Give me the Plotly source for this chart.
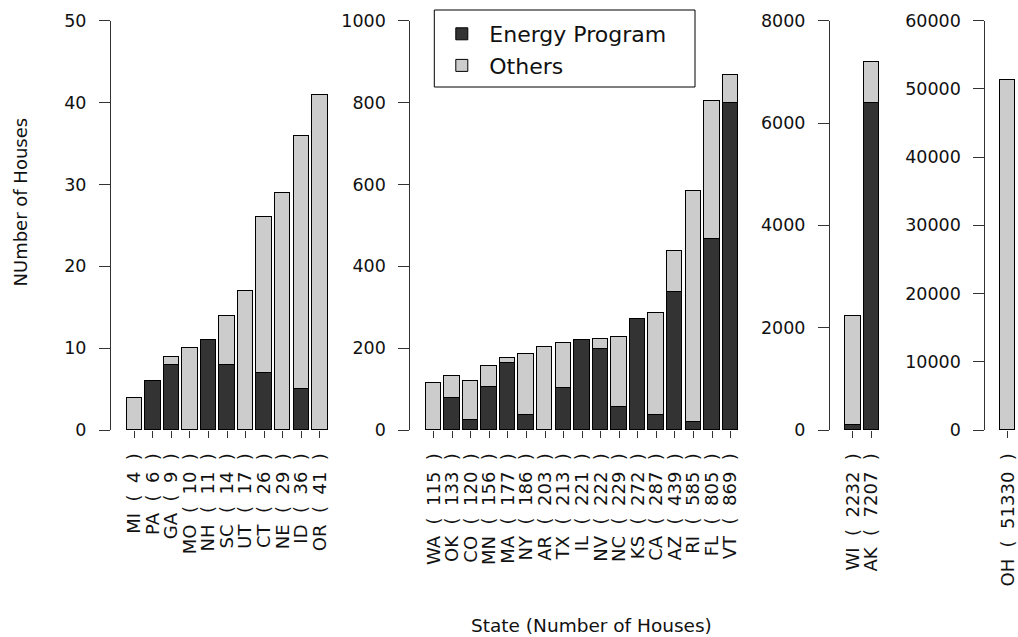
import plotly.graph_objects as go

# Houses per state, split into Energy Program participants and others.
# Four groups with very different magnitudes, each on its own y scale.
states_1 = ["MI", "PA", "GA", "MO", "NH", "SC", "UT", "CT", "NE", "ID", "OR"]
energy_1 = [0, 6, 8, 0, 11, 8, 0, 7, 0, 5, 0]
others_1 = [4, 0, 1, 10, 0, 6, 17, 19, 29, 31, 41]

states_2 = ["WA", "OK", "CO", "MN", "MA", "NY", "AR", "TX", "IL", "NV",
            "NC", "KS", "CA", "AZ", "RI", "FL", "VT"]
energy_2 = [0, 79, 24, 107, 164, 37, 0, 103, 221, 198, 57, 272, 37, 338, 20, 467, 800]
others_2 = [115, 54, 96, 49, 13, 149, 203, 110, 0, 24, 172, 0, 250, 101, 565, 338, 69]

states_3 = ["WI", "AK"]
energy_3 = [110, 6400]
others_3 = [2122, 807]

states_4 = ["OH"]
energy_4 = [0]
others_4 = [51330]

y_ticks_1 = [0, 10, 20, 30, 40, 50]
y_ticks_2 = [0, 200, 400, 600, 800, 1000]
y_ticks_3 = [0, 2000, 4000, 6000, 8000]
y_ticks_4 = [0, 10000, 20000, 30000, 40000, 50000, 60000]

DARK = "#333333"
LIGHT = "#cccccc"
FONT = "DejaVu Sans"
W, H = 1018, 637

groups = [
    (states_1, energy_1, others_1, y_ticks_1),
    (states_2, energy_2, others_2, y_ticks_2),
    (states_3, energy_3, others_3, y_ticks_3),
    (states_4, energy_4, others_4, y_ticks_4),
]

# Panel placement in pixels (left edge at the y axis line, right edge) and x ranges
panel_px = [(111, 331), (410.3, 741.8), (830, 883), (985.3, 1017.8)]
panel_xrange = [(-1.255, 10.6), (-1.26, 16.6), (-1.23, 1.62), (-1.22, 0.53)]
y_bottom_px, y_top_px = 430, 20.7
y_domain = [(H - y_bottom_px) / H, (H - y_top_px) / H]

# Legend frame (pixels): left, top, right, bottom
legend_box = (434.3, 10, 695, 87)

fig = go.Figure()
layout = {}
for i, (states, energy, others, yt) in enumerate(groups):
    k = "" if i == 0 else str(i + 1)
    xa, ya = "x" + k, "y" + k
    pos = list(range(len(states)))
    labels = [f"{s}  (  {e + o}  )" for s, e, o in zip(states, energy, others)]

    fig.add_trace(go.Bar(
        x=pos, y=energy, xaxis=xa, yaxis=ya, width=0.83,
        name="Energy Program", legendgroup="energy", showlegend=(i == 0),
        marker=dict(color=DARK, line=dict(color="black", width=1)),
    ))
    fig.add_trace(go.Bar(
        x=pos, y=others, xaxis=xa, yaxis=ya, width=0.83,
        name="Others", legendgroup="others", showlegend=(i == 0),
        marker=dict(color=LIGHT, line=dict(color="black", width=1)),
    ))

    l_px, r_px = panel_px[i]
    layout["xaxis" + k] = dict(
        domain=[l_px / W, r_px / W], range=list(panel_xrange[i]), anchor=ya,
        tickmode="array", tickvals=pos, ticktext=labels, tickangle=-90,
        ticks="outside", ticklen=7, tickcolor="#333333", showline=False,
        showgrid=False, zeroline=False, ticklabelstandoff=8,
        tickfont=dict(family=FONT, size=18, color="#111111"),
    )
    layout["yaxis" + k] = dict(
        domain=y_domain, range=[0, yt[-1]], anchor=xa,
        tickmode="array", tickvals=yt, ticktext=[str(v) for v in yt],
        ticks="outside", ticklen=11,
        tickcolor="#333333", showline=True, linecolor="#333333", linewidth=1,
        showgrid=False, zeroline=False, ticklabelstandoff=9,
        tickfont=dict(family=FONT, size=17.5, color="#111111"),
    )

bx0, by0, bx1, by1 = legend_box
fig.update_layout(
    width=W, height=H,
    margin=dict(l=0, r=0, t=0, b=0, autoexpand=False),
    paper_bgcolor="white", plot_bgcolor="white",
    barmode="stack", bargap=0,
    showlegend=True,
    legend=dict(
        x=bx0 / W, y=(H - 13) / H, xanchor="left", yanchor="top",
        bgcolor="rgba(0,0,0,0)", borderwidth=0,
        traceorder="normal", tracegroupgap=0, itemwidth=45,
        font=dict(family=FONT, size=22, color="#111111"),
    ),
    shapes=[
        dict(type="rect", xref="paper", yref="paper", layer="above",
             x0=bx0 / W, x1=bx1 / W, y0=(H - by1) / H, y1=(H - by0) / H,
             fillcolor="white", line=dict(color="black", width=1)),
    ],
    annotations=[
        dict(text="NUmber of Houses", x=20 / W, y=(H - 202.5) / H,
             xref="paper", yref="paper", xanchor="center", yanchor="middle",
             textangle=-90, showarrow=False,
             font=dict(family=FONT, size=18, color="#111111")),
        dict(text="State (Number of Houses)", x=591.7 / W, y=(H - 625) / H,
             xref="paper", yref="paper", xanchor="center", yanchor="middle",
             showarrow=False,
             font=dict(family=FONT, size=18.5, color="#111111")),
    ],
    **layout,
)

fig.write_html("out.html")
